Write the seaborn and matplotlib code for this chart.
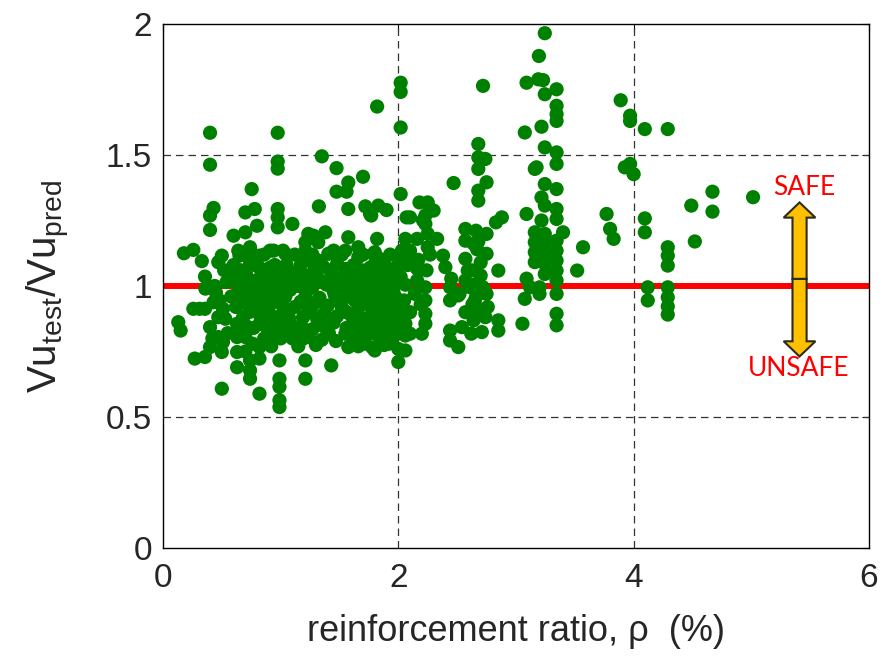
import matplotlib
matplotlib.use("Agg")
import matplotlib.pyplot as plt
from matplotlib.patches import FancyArrow
import seaborn as sns
import pandas as pd

# Shear-test database: reinforcement ratio (%) and Vu_test / Vu_pred, grouped by rho range
tests_rho_below_06 = [
    (0.13, 0.862), (0.15, 0.83), (0.178, 1.125), (0.258, 1.138), (0.33, 1.095), (0.357, 1.036),
    (0.258, 0.913), (0.357, 0.913), (0.27, 0.723), (0.357, 0.729), (0.40, 0.767), (0.50, 0.748),
    (0.50, 0.608), (0.40, 0.843), (0.47, 0.881), (0.51, 0.913), (0.43, 0.938), (0.47, 0.805),
    (0.51, 0.786), (0.48, 0.945), (0.54, 1.015), (0.40, 1.585), (0.40, 1.463), (0.43, 1.298),
    (0.40, 1.269), (0.40, 1.214), (0.50, 1.116), (0.47, 1.091), (0.60, 1.192), (0.44, 1.00),
    (0.58, 0.96), (0.57, 1.04), (0.60, 1.08), (0.31, 0.913), (0.45, 0.975), (0.53, 0.875),
    (0.55, 0.82), (0.42, 0.80), (0.36, 0.99), (0.52, 1.06),
]

tests_rho_06_11 = [
    (0.63, 1.015), (0.63, 0.856), (0.63, 0.805), (0.63, 0.748), (0.63, 0.69), (0.70, 0.85),
    (0.70, 0.805), (0.74, 0.716), (0.74, 0.678), (0.74, 0.646), (0.82, 0.589), (0.82, 0.767),
    (0.82, 0.723), (0.88, 0.843), (0.88, 0.805), (0.99, 0.805), (0.99, 0.843), (0.97, 0.881),
    (0.85, 0.907), (0.77, 0.907), (0.77, 0.945), (0.99, 0.716), (0.99, 0.646), (0.99, 0.615),
    (0.99, 0.564), (0.99, 0.538), (0.754, 1.37), (0.70, 1.281), (0.78, 1.294), (0.975, 1.585),
    (0.975, 1.475), (0.975, 1.448), (0.975, 1.294), (0.975, 1.262), (0.975, 1.224), (0.70, 1.205),
    (0.80, 1.23), (0.64, 1.135), (0.74, 1.148), (0.91, 1.135), (1.02, 1.135), (0.65, 1.116),
    (0.74, 1.135), (0.82, 1.116), (0.94, 1.135), (0.74, 1.085), (0.82, 1.07), (0.91, 1.07),
    (0.99, 1.07), (0.70, 1.046), (0.83, 1.034), (0.97, 1.034), (1.07, 1.046), (0.72, 0.97),
    (0.83, 0.97), (0.97, 0.97), (0.66, 1.00), (0.75, 1.00), (0.88, 1.00), (1.00, 1.00),
    (0.70, 0.96), (0.81, 0.96), (0.92, 0.96), (1.04, 0.96), (0.62, 0.92), (0.76, 0.92),
    (0.90, 0.92), (1.02, 0.92), (0.68, 0.88), (0.83, 0.88), (0.95, 0.88), (1.07, 0.88),
    (0.77, 0.84), (0.90, 0.84), (1.05, 0.84), (0.86, 0.80), (1.00, 0.80), (0.92, 0.77),
    (0.78, 1.08), (0.95, 1.08), (1.05, 1.08), (0.68, 1.12), (0.86, 1.12), (0.71, 1.04),
    (0.84, 1.04), (0.93, 1.04), (1.10, 1.04),
    (0.66, 1.06), (0.88, 1.055), (1.02, 1.06), (0.79, 1.02), (0.91, 1.015), (1.06, 1.02),
    (0.64, 0.98), (0.79, 0.985), (0.94, 0.98), (1.08, 0.985), (0.68, 0.94), (0.86, 0.94),
    (0.98, 0.945), (0.73, 0.90), (0.89, 0.895), (1.04, 0.90), (0.66, 0.83), (0.82, 0.855),
    (0.95, 0.82), (1.08, 0.86), (0.76, 0.78), (0.70, 0.75),
]

tests_rho_11_21 = [
    (1.10, 1.237), (1.325, 1.304), (1.35, 1.495), (1.475, 1.45), (1.575, 1.395), (1.475, 1.36),
    (1.56, 1.36), (1.70, 1.417), (1.82, 1.685), (1.575, 1.294), (1.72, 1.304), (1.77, 1.269),
    (1.83, 1.307), (1.90, 1.29), (1.76, 1.275), (1.21, 1.167), (1.28, 1.192), (1.38, 1.205),
    (1.235, 1.199), (1.32, 1.167), (1.45, 1.135), (1.55, 1.135), (1.66, 1.148), (1.575, 1.186),
    (1.82, 1.18), (1.79, 1.123), (1.84, 1.104), (1.66, 1.11), (1.21, 1.135), (1.21, 1.097),
    (1.32, 1.097), (1.405, 1.123), (1.80, 1.129), (1.80, 1.085), (2.03, 1.135), (2.03, 1.097),
    (1.04, 1.123), (1.065, 1.059), (1.21, 0.716), (1.21, 0.646), (1.43, 0.697), (1.19, 0.799),
    (1.575, 0.767), (1.55, 0.818), (1.80, 0.754), (2.00, 0.71), (1.18, 0.843), (1.72, 0.805),
    (1.72, 0.856), (2.00, 0.76), (1.91, 0.805), (1.12, 1.12), (1.27, 1.12), (1.52, 1.12),
    (1.70, 1.12), (1.93, 1.12), (2.05, 1.12),
    (1.17, 1.08), (1.36, 1.075), (1.48, 1.085), (1.62, 1.08), (1.76, 1.07), (1.88, 1.085),
    (1.99, 1.075), (2.08, 1.08),
    (1.23, 1.04), (1.31, 1.035), (1.44, 1.045), (1.58, 1.04), (1.67, 1.03), (1.82, 1.045),
    (1.91, 1.04), (2.02, 1.035),
    (1.15, 1.00), (1.27, 0.995), (1.39, 1.005), (1.52, 1.00), (1.63, 0.99), (1.74, 1.005),
    (1.85, 1.00), (1.95, 0.995), (2.06, 1.005),
    (1.21, 0.96), (1.33, 0.955), (1.46, 0.965), (1.57, 0.96), (1.69, 0.955), (1.79, 0.965),
    (1.90, 0.96), (1.98, 0.955),
    (1.12, 0.92), (1.26, 0.915), (1.40, 0.925), (1.52, 0.92), (1.66, 0.915), (1.76, 0.925),
    (1.86, 0.92), (1.94, 0.915), (2.03, 0.925),
    (1.19, 0.88), (1.31, 0.875), (1.48, 0.885), (1.61, 0.88), (1.72, 0.875), (1.83, 0.885),
    (1.92, 0.88), (2.00, 0.875),
    (1.14, 0.84), (1.27, 0.835), (1.37, 0.845), (1.56, 0.84), (1.69, 0.835), (1.80, 0.845),
    (1.88, 0.84), (1.97, 0.835),
    (1.10, 0.80), (1.24, 0.805), (1.35, 0.795), (1.62, 0.80), (1.84, 0.805), (1.94, 0.795),
    (1.15, 0.77), (1.30, 0.775), (1.66, 0.77), (1.78, 0.765), (1.88, 0.775),
    (1.16, 1.06), (1.29, 1.065), (1.42, 1.06), (1.55, 1.065), (1.69, 1.06), (1.83, 1.065),
    (1.95, 1.055), (1.19, 1.02), (1.34, 1.02), (1.49, 1.025), (1.63, 1.02), (1.76, 1.025),
    (1.88, 1.02), (2.00, 1.015), (1.22, 0.98), (1.45, 0.98), (1.58, 0.985), (1.72, 0.98),
    (1.84, 0.98), (1.96, 0.975), (1.17, 0.94), (1.31, 0.94), (1.50, 0.94), (1.63, 0.945),
    (1.82, 0.94), (1.93, 0.94), (2.05, 0.945), (1.23, 0.90), (1.37, 0.895), (1.56, 0.90),
    (1.78, 0.90), (1.88, 0.90), (1.98, 0.90), (1.45, 0.86), (1.64, 0.855), (1.76, 0.86),
    (1.86, 0.86), (1.93, 0.86), (1.41, 0.82), (1.67, 0.82), (1.79, 0.82), (1.90, 0.82),
    (1.98, 0.815), (1.47, 0.79), (1.72, 0.78), (1.92, 0.78),
    (2.02, 1.776), (2.02, 1.741), (2.02, 1.605), (2.02, 1.351), (2.07, 1.262), (2.06, 1.18),
    (2.07, 1.10), (2.06, 0.754), (2.06, 0.811), (2.06, 0.856),
]

tests_rho_21_30 = [
    (2.18, 1.319), (2.25, 1.319), (2.27, 1.294), (2.23, 1.269), (2.23, 1.237), (2.16, 1.18),
    (2.10, 1.262), (2.33, 1.18), (2.25, 1.148), (2.10, 1.135), (2.16, 1.066), (2.10, 1.104),
    (2.30, 1.288), (2.21, 1.25), (2.25, 1.199), (2.38, 1.116), (2.40, 1.072), (2.45, 1.028),
    (2.52, 0.97), (2.44, 0.945), (2.44, 0.995), (2.57, 1.218), (2.66, 1.211), (2.75, 1.199),
    (2.83, 1.243), (2.88, 1.262), (2.57, 1.173), (2.64, 1.161), (2.57, 1.104), (2.59, 1.059),
    (2.75, 1.123), (2.85, 1.059), (2.57, 1.021), (2.66, 1.008), (2.75, 0.97), (2.65, 0.945),
    (2.57, 0.90), (2.64, 0.869), (2.74, 0.881), (2.85, 0.869), (2.85, 0.83), (2.54, 0.843),
    (2.62, 0.818), (2.71, 0.824), (2.44, 0.83), (2.44, 0.792), (2.51, 0.767), (2.16, 1.021),
    (2.23, 0.995), (2.23, 0.945), (2.23, 0.894), (2.23, 0.856), (2.10, 0.90), (2.10, 0.818),
    (2.20, 0.818), (2.68, 1.542), (2.68, 1.491), (2.74, 1.485), (2.68, 1.447), (2.75, 1.396),
    (2.68, 1.364), (2.68, 1.326), (2.47, 1.393), (2.72, 1.764), (2.64, 0.894), (2.76, 0.92),
    (2.66, 0.957), (2.61, 0.995), (2.72, 0.995), (2.51, 0.964), (2.62, 1.06), (2.70, 1.09),
    (2.67, 1.14), (2.70, 1.04), (2.63, 0.93), (2.72, 0.91), (2.68, 1.17), (2.17, 1.10),
    (2.24, 1.06), (2.14, 0.97), (2.19, 0.93), (2.27, 1.12),
]

tests_rho_30_36 = [
    (3.245, 1.965), (3.195, 1.878), (3.09, 1.776), (3.19, 1.789), (3.23, 1.786), (3.345, 1.751),
    (3.245, 1.732), (3.345, 1.688), (3.345, 1.656), (3.345, 1.63), (3.075, 1.586), (3.217, 1.608),
    (3.245, 1.529), (3.345, 1.51), (3.345, 1.466), (3.175, 1.453), (3.245, 1.389), (3.345, 1.37),
    (3.217, 1.338), (3.245, 1.307), (3.09, 1.275), (3.345, 1.294), (3.345, 1.256), (3.40, 1.205),
    (3.217, 1.25), (3.16, 1.205), (3.16, 1.167), (3.16, 1.129), (3.16, 1.091), (3.245, 1.199),
    (3.245, 1.161), (3.245, 1.123), (3.245, 1.085), (3.245, 1.046), (3.345, 1.173), (3.345, 1.135),
    (3.345, 1.097), (3.345, 1.059), (3.345, 1.021), (3.345, 0.97), (3.09, 1.028), (3.075, 0.951),
    (3.20, 0.97), (3.345, 0.894), (3.345, 0.85), (3.055, 0.856), (3.57, 1.148), (3.52, 1.059),
    (3.16, 1.447), (3.20, 0.995), (3.12, 0.995),
]

tests_rho_above_36 = [
    (3.77, 1.275), (3.80, 1.218), (3.83, 1.18), (3.89, 1.709), (3.97, 1.65), (3.97, 1.63),
    (4.095, 1.599), (4.29, 1.599), (3.925, 1.453), (3.97, 1.466), (4.00, 1.427), (4.67, 1.36),
    (4.67, 1.284), (4.49, 1.307), (4.52, 1.17), (5.015, 1.339), (4.095, 1.258), (4.095, 1.205),
    (4.29, 1.148), (4.29, 1.116), (4.29, 1.078), (4.12, 0.995), (4.12, 0.945), (4.29, 0.995),
    (4.29, 0.957), (4.29, 0.922), (4.29, 0.891),
]

x_ticks = [0, 2, 4, 6]
y_ticks = [0, 0.5, 1, 1.5, 2]
x_tick_labels = ["0", "2", "4", "6"]
y_tick_labels = ["0", "0.5", "1", "1.5", "2"]

all_tests = (tests_rho_below_06 + tests_rho_06_11 + tests_rho_11_21
             + tests_rho_21_30 + tests_rho_30_36 + tests_rho_above_36)
df = pd.DataFrame(all_tests, columns=["rho", "ratio"])

sns.set_style("white")
plt.rcParams["font.family"] = ["Liberation Sans", "DejaVu Sans"]
plt.rcParams["mathtext.fontset"] = "custom"
plt.rcParams["mathtext.rm"] = "Liberation Sans"

fig = plt.figure(figsize=(8.94, 6.6), dpi=100)
ax = fig.add_axes([0.1823, 0.1697, 0.7897, 0.7939])

# dashed MATLAB-style grid
for xv in x_ticks[1:-1]:
    ax.axvline(xv, color="#333333", lw=0.9, ls=(0, (6, 4)), zorder=1)
for yv in y_ticks[1:-1]:
    ax.axhline(yv, color="#333333", lw=0.9, ls=(0, (6, 4)), zorder=1)

# unity line
ax.axhline(1.0, color="#ff0000", lw=4.3, zorder=2)

sns.scatterplot(data=df, x="rho", y="ratio", ax=ax, color="#008000",
                s=105, edgecolor="none", linewidth=0, zorder=3, legend=False)

ax.set_xlim(0, 6)
ax.set_ylim(0, 2)
ax.set_xticks(x_ticks)
ax.set_xticklabels(x_tick_labels)
ax.set_yticks(y_ticks)
ax.set_yticklabels(y_tick_labels)
ax.tick_params(axis="both", direction="in", length=5, width=0.8, color="black",
               top=True, right=True, labelsize=24)
ax.tick_params(axis="x", pad=11)
ax.tick_params(axis="y", pad=8)
for sp in ax.spines.values():
    sp.set_visible(True)
    sp.set_color("black")
    sp.set_linewidth(1.0)

ax.set_xlabel("reinforcement ratio, ρ  (%)", fontsize=26, labelpad=14)
ax.set_ylabel(r"Vu$_{\mathregular{test}}$/Vu$_{\mathregular{pred}}$", fontsize=29, labelpad=24)

# safe / unsafe indicator
arrow_x = 5.41
mid_y = 1.027
for tip in (1.319, 0.731):
    ax.add_patch(FancyArrow(arrow_x, mid_y, 0, tip - mid_y, width=0.12, head_width=0.27,
                            head_length=0.058, length_includes_head=True,
                            facecolor="#ffc000", edgecolor="#2b2b1a", linewidth=1.5,
                            zorder=5))
ax.text(5.45, 1.376, "SAFE", color="#ff0000", fontsize=19, family="Lato",
        ha="center", va="center", zorder=6)
ax.text(5.40, 0.685, "UNSAFE", color="#ff0000", fontsize=19, family="Lato",
        ha="center", va="center", zorder=6)

fig.savefig("out.png", dpi=100)
